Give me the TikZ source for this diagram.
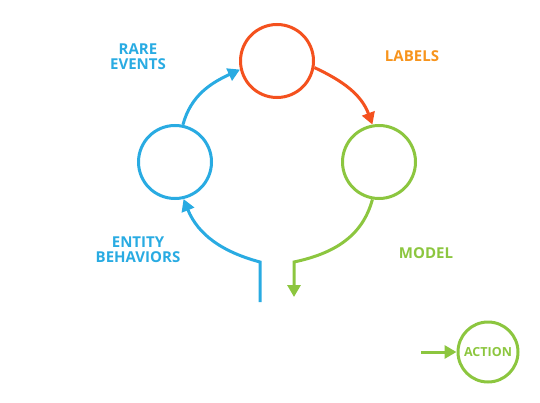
\documentclass[tikz,border=0pt]{standalone}
\usepackage{fontspec}
\setmainfont{Open Sans}
\usepackage{xcolor}
\usepackage{tikz}
\usetikzlibrary{arrows.meta}
\definecolor{blue}{HTML}{29ABE2}
\definecolor{red}{HTML}{F4511E}
\definecolor{orange}{HTML}{F7941D}
\definecolor{green}{HTML}{8CC63F}
\tikzset{
  ring/.style={circle, line width=3pt, minimum size=73pt, inner sep=0pt},
  flow/.style={line width=3pt, -{Triangle[width=13pt,length=12pt]}},
  lab/.style={align=center, font=\bfseries\fontsize{15}{15}\selectfont}
}

\begin{document}
\begin{tikzpicture}[x=1pt,y=1pt]
  \useasboundingbox (0,0) rectangle (540,402);

  \node[ring,draw=red] (R) at (277,341) {};
  \node[ring,draw=blue] (B) at (175,240) {};
  \node[ring,draw=green] (G) at (379,240) {};
  \node[ring,draw=green,minimum size=60pt] (A) at (488,50)
    {\fontsize{12.5}{13}\selectfont\bfseries\color{green}ACTION};

  \coordinate (bin) at (260,100);
  \coordinate (bk) at (260,140);
  \coordinate (gk) at (294,140);
  \coordinate (gout) at (294,105);
  \coordinate (ain) at (421,50);

  \draw[flow,blue] (B.78) to[out=75,in=205] (R.193);
  \draw[flow,red] (R.-10) to[out=-25,in=110] (G.100);
  \draw[flow,green] (G.260) to[out=255,in=12] (gk) -- (gout);
  \draw[flow,blue] (bin) -- (bk) to[out=165,in=-68] (B.283);
  \draw[flow,green] (ain) -- (A);

  \node[lab,text=blue] (rare) at (138,345) {RARE\\EVENTS};
  \node[lab,text=orange] (labels) at (412,346) {LABELS};
  \node[lab,text=blue] (entity) at (138,152) {ENTITY\\BEHAVIORS};
  \node[lab,text=green] (model) at (426,149) {MODEL};
\end{tikzpicture}
\end{document}
